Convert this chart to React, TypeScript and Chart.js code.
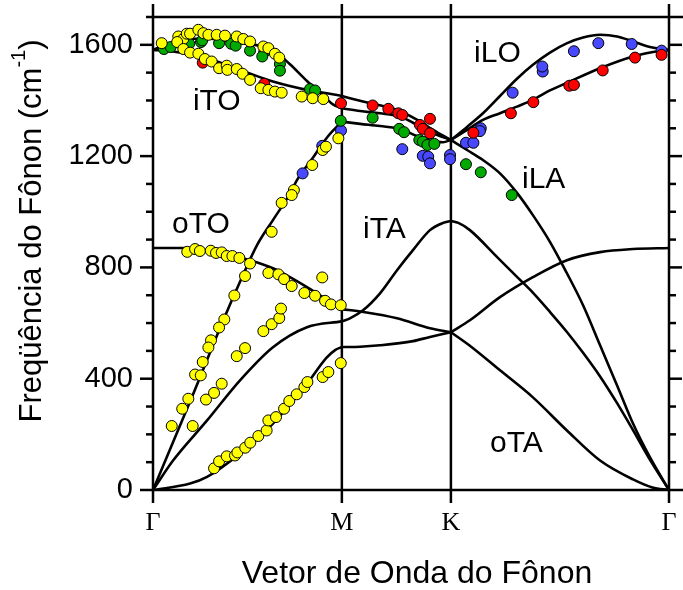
import { useEffect, useRef } from 'react';
import { Chart, registerables } from 'chart.js';

Chart.register(...registerables);

type P = [number, number];

// Path through the Brillouin zone: Γ → M → K → Γ (path length units)
const symPos = [0, 0.866, 1.366, 2.366];
const symLabels = ['Γ', 'M', 'K', 'Γ'];
const yTickValues = [0, 400, 800, 1200, 1600];

// Calculated dispersion branches, one array per path segment
const oTA_GM: P[] = [[0, 0], [0.17, 23], [0.248, 47], [0.399, 131], [0.55, 239], [0.706, 382], [0.796, 476], [0.835, 503], [0.866, 514]];
const oTA_MK: P[] = [[0.866, 514], [0.95, 515], [1.041, 520], [1.192, 535], [1.27, 550], [1.366, 567]];
const oTA_KG: P[] = [[1.366, 567], [1.45, 520], [1.591, 430], [1.742, 333], [1.898, 214], [2.05, 106], [2.201, 38], [2.29, 9], [2.366, 0]];

const iTA_GM: P[] = [[0, 0], [0.092, 106], [0.248, 250], [0.399, 394], [0.55, 513], [0.706, 585], [0.866, 606]];
const iTA_MK: P[] = [[0.866, 606], [0.903, 617], [0.963, 646], [1.041, 707], [1.119, 790], [1.192, 862], [1.27, 934], [1.33, 960], [1.366, 967]];
const iTA_KG: P[] = [[1.366, 967], [1.4, 960], [1.453, 934], [1.577, 838], [1.669, 766], [1.729, 720], [1.82, 640], [1.898, 568], [1.972, 493], [2.05, 408], [2.128, 312], [2.201, 215], [2.279, 108], [2.366, 0]];

const iLA_GM: P[] = [[0, 0], [0.17, 318], [0.32, 606], [0.4, 750], [0.477, 880], [0.55, 970], [0.628, 1065], [0.66, 1114], [0.734, 1195], [0.798, 1267], [0.866, 1324]];
const iLA_MK: P[] = [[0.866, 1324], [0.95, 1316], [1.041, 1308], [1.133, 1298], [1.21, 1272], [1.284, 1253], [1.33, 1250], [1.366, 1258]];
const iLA_KG: P[] = [[1.366, 1258], [1.44, 1222], [1.513, 1186], [1.591, 1138], [1.669, 1068], [1.742, 988], [1.82, 892], [1.898, 779], [1.972, 664], [2.05, 520], [2.128, 376], [2.201, 239], [2.279, 117], [2.366, 0]];

const oTO_GM: P[] = [[0, 870], [0.138, 870], [0.22, 864], [0.321, 851], [0.445, 826], [0.55, 797], [0.628, 765], [0.706, 729], [0.779, 693], [0.866, 650]];
const oTO_MK: P[] = [[0.866, 650], [0.963, 640], [1.119, 617], [1.27, 581], [1.366, 567]];
const oTO_KG: P[] = [[1.366, 567], [1.453, 610], [1.591, 693], [1.742, 765], [1.898, 826], [2.05, 855], [2.201, 866], [2.366, 870]];

const iTO_GM: P[] = [[0, 1582], [0.092, 1576], [0.248, 1552], [0.399, 1510], [0.55, 1468], [0.706, 1438], [0.798, 1426], [0.866, 1416]];
const iTO_MK: P[] = [[0.866, 1416], [0.963, 1396], [1.119, 1366], [1.224, 1325], [1.284, 1294], [1.366, 1258]];
const iTO_KG: P[] = [[1.366, 1258], [1.44, 1294], [1.513, 1330], [1.591, 1354], [1.669, 1378], [1.742, 1402], [1.82, 1436], [1.899, 1464], [2.05, 1516], [2.201, 1558], [2.32, 1578], [2.366, 1582]];

const iLO_GM: P[] = [[0, 1582], [0.08, 1606], [0.17, 1622], [0.26, 1622], [0.399, 1606], [0.48, 1598], [0.55, 1582], [0.628, 1530], [0.706, 1470], [0.766, 1428], [0.825, 1386], [0.866, 1372]];
const iLO_MK: P[] = [[0.866, 1372], [0.95, 1362], [1.041, 1354], [1.133, 1342], [1.192, 1320], [1.284, 1282], [1.366, 1258]];
const iLO_KG: P[] = [[1.366, 1258], [1.44, 1305], [1.513, 1354], [1.591, 1416], [1.669, 1478], [1.742, 1528], [1.82, 1572], [1.899, 1606], [1.972, 1626], [2.05, 1636], [2.128, 1630], [2.201, 1612], [2.279, 1592], [2.366, 1582]];

// Measured frequencies, grouped by marker colour
const yellowPts: P[] = [
  [0.04, 1606], [0.116, 1630], [0.139, 1621], [0.111, 1610], [0.155, 1640], [0.17, 1640], [0.208, 1654], [0.231, 1642], [0.254, 1636],
  [0.292, 1636], [0.33, 1633], [0.384, 1630], [0.414, 1621], [0.445, 1612], [0.506, 1594], [0.529, 1588], [0.559, 1568], [0.579, 1554],
  [0.139, 1585], [0.17, 1572], [0.208, 1568], [0.238, 1549], [0.269, 1540], [0.303, 1516], [0.338, 1525], [0.341, 1510], [0.384, 1513],
  [0.411, 1496], [0.445, 1474], [0.494, 1444], [0.529, 1438], [0.559, 1432], [0.59, 1428], [0.682, 1414], [0.732, 1408], [0.781, 1405],
  [0.85, 1264], [0.778, 1222], [0.793, 1234], [0.73, 1168],
  [0.646, 1078], [0.636, 1060], [0.59, 1032], [0.544, 928], [0.422, 769], [0.373, 699], [0.327, 613], [0.303, 584], [0.266, 538],
  [0.254, 512], [0.228, 460], [0.193, 415], [0.219, 412], [0.162, 328], [0.134, 292], [0.086, 230], [0.182, 230],
  [0.243, 325], [0.28, 349], [0.315, 382], [0.384, 481], [0.422, 510], [0.506, 571], [0.544, 596], [0.579, 618], [0.587, 652],
  [0.28, 78], [0.303, 103], [0.338, 121], [0.376, 124], [0.387, 135], [0.423, 152], [0.446, 170], [0.483, 194], [0.521, 214],
  [0.529, 250], [0.564, 262], [0.601, 292], [0.625, 320], [0.659, 344], [0.694, 370], [0.708, 388], [0.778, 406], [0.804, 424], [0.861, 456],
  [0.157, 856], [0.193, 866], [0.215, 859], [0.265, 860], [0.289, 852], [0.315, 854], [0.338, 841], [0.364, 841], [0.396, 834],
  [0.445, 814], [0.529, 780], [0.575, 775], [0.601, 758], [0.636, 733], [0.694, 708], [0.743, 698], [0.789, 680], [0.816, 667],
  [0.861, 664], [0.776, 764],
];
const greenPts: P[] = [
  [0.05, 1585], [0.081, 1592], [0.166, 1604], [0.22, 1610], [0.226, 1616], [0.303, 1606], [0.358, 1604], [0.379, 1597], [0.445, 1579],
  [0.51, 1574], [0.501, 1558], [0.582, 1531], [0.582, 1507], [0.72, 1441], [0.743, 1436], [0.861, 1327],
  [1.007, 1338], [1.129, 1298], [1.151, 1286], [1.221, 1258], [1.237, 1252], [1.258, 1240], [1.29, 1244], [1.435, 1171], [1.503, 1142], [1.645, 1060],
];
const redPts: P[] = [
  [0.228, 1536], [0.51, 1460], [0.862, 1390], [1.007, 1382], [1.079, 1370], [1.125, 1354], [1.143, 1348], [1.224, 1312], [1.237, 1298],
  [1.27, 1334], [1.27, 1282], [1.469, 1284], [1.641, 1354], [1.744, 1394], [1.909, 1453], [1.93, 1456], [2.062, 1508], [2.21, 1554], [2.332, 1564],
];
const bluePts: P[] = [
  [0.862, 1292], [0.776, 1237], [0.686, 1138], [1.143, 1225], [1.237, 1201], [1.262, 1198], [1.27, 1174], [1.362, 1204], [1.362, 1189],
  [1.435, 1248], [1.469, 1248], [1.503, 1300], [1.499, 1290], [1.649, 1428], [1.787, 1504], [1.785, 1522], [1.93, 1577], [2.042, 1606],
  [2.195, 1603], [2.332, 1579],
];

// Branch names placed next to their curves (x, baseline y)
const branchNames = ['iLO', 'iTO', 'oTO', 'iTA', 'iLA', 'oTA'];
const branchNameAt: P[] = [[1.472, 1540], [0.183, 1366], [0.087, 923], [0.963, 905], [1.692, 1084], [1.545, 135]];

const curves: P[][] = [
  oTA_GM, oTA_MK, oTA_KG, iTA_GM, iTA_MK, iTA_KG, iLA_GM, iLA_MK, iLA_KG,
  oTO_GM, oTO_MK, oTO_KG, iTO_GM, iTO_MK, iTO_KG, iLO_GM, iLO_MK, iLO_KG,
];
const markerSets: { pts: P[]; color: string }[] = [
  { pts: yellowPts, color: '#FFFF00' },
  { pts: greenPts, color: '#00AA00' },
  { pts: redPts, color: '#FF0000' },
  { pts: bluePts, color: '#4848FF' },
];

const toXY = (pts: P[]) => pts.map(([x, y]) => ({ x, y }));
const SANS = '"Liberation Sans", Arial, sans-serif';
const SERIF = '"Liberation Serif", "Times New Roman", serif';

// Axis frame, tick marks and symmetry-point lines, drawn beneath the data
const framePlugin = {
  id: 'frame',
  beforeDatasetsDraw(chart: any) {
    const { ctx, chartArea: a, scales } = chart;
    const xs = scales.x;
    const ys = scales.y;
    const seg = (x1: number, y1: number, x2: number, y2: number) => {
      ctx.beginPath();
      ctx.moveTo(x1, y1);
      ctx.lineTo(x2, y2);
      ctx.stroke();
    };
    ctx.save();
    ctx.strokeStyle = '#000';
    ctx.lineWidth = 2.5;
    ctx.lineCap = 'butt';
    seg(a.left - 7, a.top, a.right + 14, a.top);
    seg(a.left - 13, a.bottom, a.right + 14, a.bottom);
    for (const v of symPos) {
      const px = xs.getPixelForValue(v);
      seg(px, a.top - 13, px, a.bottom + 13);
    }
    for (let v = 100; v < 1700; v += 100) {
      const py = ys.getPixelForValue(v);
      const len = v % 400 === 0 ? 13 : 7;
      seg(a.left - len, py, a.left, py);
      seg(a.right, py, a.right + len, py);
    }
    ctx.restore();
  },
  afterDraw(chart: any) {
    const { ctx, chartArea: a, scales } = chart;
    const xs = scales.x;
    const ys = scales.y;
    ctx.save();
    ctx.fillStyle = '#000';
    ctx.textBaseline = 'alphabetic';
    // branch names
    ctx.font = `30px ${SANS}`;
    ctx.textAlign = 'left';
    branchNames.forEach((name, i) => {
      const [vx, vy] = branchNameAt[i];
      ctx.fillText(name, xs.getPixelForValue(vx), ys.getPixelForValue(vy));
    });
    // x-axis title
    ctx.textAlign = 'center';
    ctx.font = `32px ${SANS}`;
    ctx.fillText('Vetor de Onda do Fônon', (a.left + a.right) / 2 + 6, 583);
    // y-axis title with superscript unit
    ctx.translate(41, 231);
    ctx.rotate(-Math.PI / 2);
    ctx.textAlign = 'left';
    const mainFont = `31px ${SANS}`;
    const supFont = `20px ${SANS}`;
    const part1 = 'Freqüência do Fônon (cm';
    const sup = '-1';
    const part3 = ')';
    ctx.font = mainFont;
    const w1 = ctx.measureText(part1).width;
    const w3 = ctx.measureText(part3).width;
    ctx.font = supFont;
    const w2 = ctx.measureText(sup).width;
    let x0 = -(w1 + w2 + w3) / 2;
    ctx.font = mainFont;
    ctx.fillText(part1, x0, 0);
    x0 += w1;
    ctx.font = supFont;
    ctx.fillText(sup, x0, -16);
    x0 += w2;
    ctx.font = mainFont;
    ctx.fillText(part3, x0, 0);
    ctx.restore();
  },
};

export default function App() {
  const ref = useRef<HTMLCanvasElement>(null);

  useEffect(() => {
    document.body.style.margin = '0';
    const canvas = ref.current;
    if (!canvas) return;

    const markerDatasets = markerSets.map((m) => ({
      data: toXY(m.pts),
      showLine: false,
      pointRadius: 5.5,
      pointBackgroundColor: m.color,
      pointBorderColor: '#000',
      pointBorderWidth: 1,
      order: 0,
    }));
    const curveDatasets = curves.map((c) => ({
      data: toXY(c),
      showLine: true,
      borderColor: '#000',
      borderWidth: 2.6,
      pointRadius: 0,
      fill: false,
      cubicInterpolationMode: 'monotone' as const,
      order: 1,
    }));

    const chart = new Chart(canvas, {
      type: 'scatter',
      data: { datasets: [...markerDatasets, ...curveDatasets] as any },
      options: {
        responsive: false,
        animation: false,
        events: [],
        layout: { padding: { top: 17, right: 14, left: 0, bottom: 0 } },
        plugins: { legend: { display: false }, tooltip: { enabled: false } },
        scales: {
          x: {
            type: 'linear',
            min: 0,
            max: 2.366,
            afterBuildTicks: (s: any) => {
              s.ticks = symPos.map((v) => ({ value: v }));
            },
            afterFit: (s: any) => {
              s.height = 100;
              s.paddingLeft = 0;
              s.paddingRight = 0;
            },
            ticks: {
              autoSkip: false,
              maxRotation: 0,
              padding: 18,
              color: '#000',
              font: { family: SERIF, size: 26 },
              callback: (_v: any, i: number) => symLabels[i],
            },
            grid: { display: false, drawTicks: false },
            border: { display: false },
          },
          y: {
            type: 'linear',
            min: 0,
            max: 1700,
            afterBuildTicks: (s: any) => {
              s.ticks = yTickValues.map((v) => ({ value: v }));
            },
            afterFit: (s: any) => {
              s.width = 153;
              s.paddingTop = 0;
              s.paddingBottom = 0;
            },
            ticks: {
              padding: 20,
              color: '#000',
              font: { family: SANS, size: 29 },
              callback: (v: any) => String(v),
            },
            grid: { display: false, drawTicks: false },
            border: { display: false },
          },
        },
      },
      plugins: [framePlugin],
    });

    return () => chart.destroy();
  }, []);

  return (
    <div style={{ width: 683, height: 590, background: '#fff' }}>
      <canvas ref={ref} width={683} height={590} style={{ display: 'block' }} />
    </div>
  );
}
